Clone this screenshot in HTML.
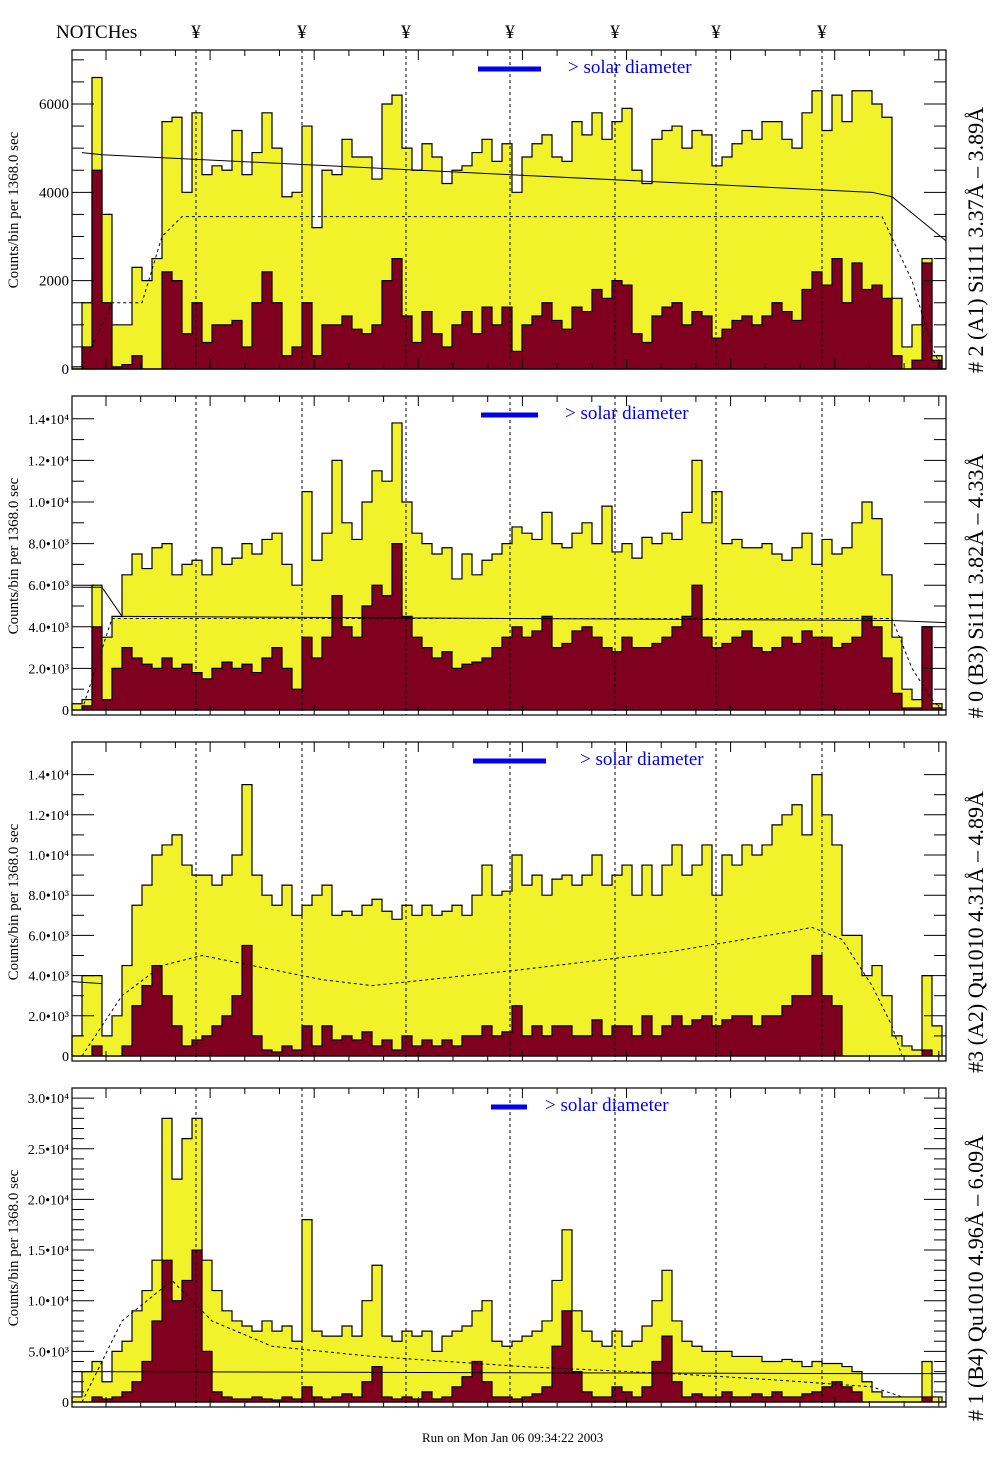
<!DOCTYPE html>
<html><head><meta charset="utf-8"><style>
body{margin:0;background:#fff;}
svg{display:block;font-family:"Liberation Serif",serif;}
</style></head><body>
<svg id="chart" width="1004" height="1476" viewBox="0 0 1004 1476" xmlns="http://www.w3.org/2000/svg">
<text x="56" y="38" font-size="19">NOTCHes</text>
<text x="422" y="1442" font-size="13">Run on Mon Jan 06 09:34:22 2003</text>
</svg>
<script>
const notchX=[196,302,406,510,615,716,822];
const y1=[0.05,1.5,6.6,3.5,1.0,1.0,2.3,2.0,2.5,5.6,5.7,4.0,5.8,4.4,4.6,4.5,5.4,4.4,4.9,5.8,5.0,3.9,4.0,5.5,3.2,4.5,4.4,5.2,4.8,4.8,4.3,6.0,6.2,5.0,4.5,5.1,4.8,4.2,4.5,4.6,4.9,5.2,4.7,5.1,4.0,4.8,5.1,5.3,4.8,4.7,5.6,5.3,5.8,5.2,5.6,5.9,4.5,4.2,5.2,5.4,5.5,5.0,5.4,5.3,4.6,4.8,5.1,5.4,5.2,5.6,5.6,5.2,5.0,5.8,6.3,5.4,6.2,5.6,6.3,6.3,6.0,5.7,1.6,0.5,1.0,2.5,0.3,0];
const r1=[0,0.5,4.5,1.5,0.05,0.1,0.3,0,0,2.2,2.0,0.8,1.5,0.6,1.0,1.0,1.1,0.5,1.5,2.2,1.5,0.3,0.5,1.5,0.3,1.0,1.0,1.2,0.9,0.8,1.0,2.0,2.5,1.2,0.6,1.3,0.8,0.5,1.0,1.3,0.8,1.4,1.0,1.4,0.4,1.0,1.2,1.5,1.1,0.9,1.4,1.3,1.8,1.6,2.0,1.9,0.8,0.6,1.2,1.4,1.5,1.0,1.3,1.2,0.7,0.9,1.1,1.2,1.0,1.2,1.5,1.3,1.1,1.8,2.2,1.9,2.5,1.5,2.4,1.8,1.9,1.6,0.3,0,0.2,2.4,0.2,0];
const y2=[0.3,0.5,6.0,3.5,4.5,6.5,7.5,6.8,7.8,8.0,6.5,7.0,7.2,6.5,7.8,7.0,7.3,8.0,7.5,8.2,8.5,7.0,6.0,10.5,7.2,8.5,12.0,9.0,8.2,10.0,11.5,11.0,13.8,10.0,8.5,8.0,7.5,7.8,6.3,7.5,6.5,7.2,7.5,8.0,8.8,8.5,8.2,9.5,8.0,7.8,8.5,9.0,8.0,9.8,7.6,8.0,7.3,8.3,8.0,8.5,8.2,9.5,12.0,9.0,10.5,8.0,8.2,7.8,7.8,8.0,7.5,7.2,7.8,8.5,7.0,8.2,7.5,7.8,9.0,10.0,9.2,6.5,3.5,1.0,0.5,4.0,0.3,0];
const r2=[0,0.2,4.0,0.5,2.0,3.0,2.5,2.2,2.0,2.5,2.0,2.2,1.8,1.5,2.0,2.3,2.0,2.2,1.8,2.5,3.0,2.0,1.0,3.5,2.5,3.5,5.5,4.0,3.5,5.0,6.0,5.5,8.0,4.5,3.5,3.0,2.5,2.8,2.0,2.2,2.3,2.5,3.0,3.5,4.0,3.5,3.8,4.5,3.0,3.2,3.8,4.0,3.5,3.0,2.8,3.5,3.0,3.0,3.2,3.5,4.0,4.5,6.0,3.5,3.0,3.2,3.5,3.8,3.0,2.8,3.0,3.5,3.2,3.8,3.5,3.5,3.0,3.2,3.5,4.5,4.0,2.5,0.8,0.1,0.1,4.0,0.1,0];
const y3=[1.0,4.0,4.0,1.0,2.0,4.5,7.5,8.5,10.0,10.5,11.0,9.5,9.0,9.0,8.5,9.0,10.0,13.5,9.0,8.0,7.5,8.5,7.0,7.5,8.0,8.5,7.0,7.2,7.0,7.5,7.8,7.2,6.8,7.5,7.0,7.5,7.0,7.2,7.5,7.0,8.0,9.5,8.0,8.2,10.0,8.5,9.0,8.0,8.8,9.0,8.5,9.0,10.0,8.5,9.0,9.5,8.0,9.5,8.0,9.5,10.5,9.0,9.5,10.5,8.0,10.0,9.5,10.5,10.0,10.5,11.5,12.0,12.5,11.0,14.0,12.0,10.5,6.0,6.0,4.0,4.5,3.0,1.0,0.5,0.3,4.0,1.5,0];
const r3=[0,0,0.5,0,0,0.5,2.5,3.5,4.5,3.0,1.5,0.5,0.8,1.0,1.5,2.0,3.0,5.5,1.0,0.3,0.2,0.5,0.3,1.5,0.5,1.5,0.8,1.0,0.8,1.2,0.5,0.8,0.3,1.0,0.5,0.8,0.5,0.8,0.5,1.0,1.0,1.5,1.0,1.2,2.5,1.0,1.5,1.0,1.5,1.5,1.0,1.0,1.8,1.0,1.5,1.5,1.0,2.0,1.0,1.5,2.0,1.5,1.8,2.0,1.5,1.8,2.0,2.0,1.5,2.0,2.0,2.5,3.0,3.0,5.0,3.0,2.5,0,0,0,0,0,0,0,0,0.3,0,0];
const y4=[0.5,3.0,4.0,2.0,5.0,6.0,9.0,11.0,14.0,28.0,22.0,26.0,28.0,14.0,11.0,9.0,8.0,7.5,7.0,8.0,7.0,7.5,6.0,18.0,7.0,6.5,6.5,7.5,6.5,10.0,13.5,6.5,6.0,7.0,6.5,7.0,5.0,6.5,7.0,7.5,9.0,10.0,6.0,5.5,6.0,6.5,7.0,8.0,12.0,17.0,9.0,7.0,6.0,5.5,7.0,5.5,6.0,7.5,10.0,13.0,8.0,6.0,5.5,5.0,5.0,5.0,4.5,4.5,4.5,4.0,4.0,4.2,4.0,3.5,4.0,3.8,3.8,3.5,3.0,2.0,1.0,0.5,0.5,0.5,0.5,4.0,0.5,0];
const r4=[0,0,0.5,0.3,0.5,1.0,2.0,4.0,8.0,14.0,10.0,12.0,15.0,5.0,1.0,0.5,0.3,0.3,0.5,0.3,0.2,0.5,0.3,1.5,0.5,0.3,0.5,0.8,0.5,2.0,3.5,0.5,0.3,0.5,0.3,1.0,0.3,0.5,1.5,2.5,4.0,2.0,0.5,0.5,0.3,0.5,0.8,1.5,5.5,9.0,3.0,1.0,0.5,0.5,1.5,1.0,0.5,1.5,4.0,6.5,2.0,0.5,0.8,0.5,0.5,1.0,0.5,0.5,0.8,0.5,1.0,0.5,0.5,0.8,1.0,1.5,2.0,1.5,1.0,0,0,0,0,0,0,0.5,0,0];
const d1=[[1,0],[4,1.5],[7,1.5],[9,3.0],[11,3.45],[81,3.45],[84,2.0],[86,0.5],[87,0]];
const d2=[[1,0],[4,4.4],[82,4.4],[84,2.0],[86,0.5],[87,0]];
const d3=[[1,0],[5,3.0],[9,4.5],[13,5.0],[18,4.5],[25,3.8],[30,3.5],[45,4.3],[60,5.2],[72,6.2],[74,6.4],[77,5.8],[80,3.5],[82,1.5],[83,0]];
const d4=[[1,0],[5,8.0],[10,12.0],[14,8.0],[20,5.5],[30,4.5],[45,3.5],[60,2.8],[70,2.2],[80,1.5],[83,0.5]];
const s1=[[1,4.9],[3,4.85],[80,4.0],[82,3.9],[88,2.9]];
const s2=[[0,5.9],[3,5.9],[5,4.5],[82,4.3],[88,4.2]];
const s3=[[0,3.7],[3,3.6]];
const s4=[[0,3.0],[2,3.0],[79,2.8],[88,2.8]];
const titles=["# 2 (A1) Si111  3.37Å – 3.89Å","# 0 (B3) Si111  3.82Å – 4.33Å","#3 (A2) Qu1010  4.31Å – 4.89Å","# 1 (B4) Qu1010 4.96Å – 6.09Å"];
const tickLabels1=["0","2000","4000","6000"];
const tickVals1=[0,2,4,6];
const tickLabelsE=[["0","2.0•10³","4.0•10³","6.0•10³","8.0•10³","1.0•10⁴","1.2•10⁴","1.4•10⁴"],["0","2.0•10³","4.0•10³","6.0•10³","8.0•10³","1.0•10⁴","1.2•10⁴","1.4•10⁴"],["0","5.0•10³","1.0•10⁴","1.5•10⁴","2.0•10⁴","2.5•10⁴","3.0•10⁴"]];
const tickValsE=[[0,2,4,6,8,10,12,14],[0,2,4,6,8,10,12,14],[0,5,10,15,20,25,30]];

const NS="http://www.w3.org/2000/svg";
const svg=document.getElementById('chart');
function mk(t,a,p){const e=document.createElementNS(NS,t);for(const k in a)e.setAttribute(k,a[k]);(p||svg).appendChild(e);return e;}
const X0=72,X1=946,BW=10;
const xS=i=>Math.min(X0+i*BW,X1);
notchX.forEach((x,i)=>{const t=mk('text',{x:x,y:38,'font-size':19,'text-anchor':'middle'});t.textContent='¥';

});
const panels=[
 {top:50,zero:369,pxk:44.17,max:7.2,y:y1,r:r1,d:d1,s:s1,lab:tickLabels1,tv:tickVals1,minor:0.5,leg:[478,541,568]},
 {top:396,zero:710,pxk:20.8,max:14.5,y:y2,r:r2,d:d2,s:s2,lab:tickLabelsE[0],tv:tickValsE[0],minor:1,leg:[481,538,565]},
 {top:742,zero:1056,pxk:20.1,max:14.8,y:y3,r:r3,d:d3,s:s3,lab:tickLabelsE[1],tv:tickValsE[1],minor:1,leg:[473,546,580]},
 {top:1088,zero:1402,pxk:10.13,max:31,y:y4,r:r4,d:d4,s:s4,lab:tickLabelsE[2],tv:tickValsE[2],minor:1,leg:[491,527,545]}];
panels.forEach((P,pi)=>{
 const g=mk('g',{});
 
 
 const yS=v=>Math.max(P.top,P.zero-v*P.pxk);
 const bot=P.top+319;
 function hist(arr,fill,name){
  let d='M'+X0+','+P.zero;
  arr.forEach((v,i)=>{d+=' L'+xS(i)+','+yS(v)+' L'+xS(i+1)+','+yS(v);});
  d+=' L'+X1+','+P.zero+' Z';
  const p=mk('path',{d:d,fill:fill,stroke:'#000','stroke-width':1.2},g);
  
  
 }
 hist(P.y,'#f2f22a','total-counts-histogram');
 hist(P.r,'#800020','source-counts-histogram');
 const line=(pts,dash,name)=>{const p=mk('polyline',{points:pts.map(q=>xS(q[0])+','+yS(q[1])).join(' '),fill:'none',stroke:'#000','stroke-width':1,'stroke-dasharray':dash},g);
  
  };
 line(P.d,'3,3','model-dashed-curve');
 line(P.s,'none','background-solid-line');
 notchX.forEach(x=>{const l=mk('line',{x1:x,y1:P.top,x2:x,y2:bot,stroke:'#000','stroke-width':1,'stroke-dasharray':'3,3'},g);
  
  });
 const fr=mk('rect',{x:X0,y:P.top,width:X1-X0,height:319,fill:'none',stroke:'#000','stroke-width':1.2},g);
 
 
 for(let k=0;k*34.7+106<X1;k++){const x=106+k*34.7;const L=(k%3==0)?10:6;
  mk('line',{x1:x,y1:P.top,x2:x,y2:P.top+L,stroke:'#000'},g);mk('line',{x1:x,y1:bot,x2:x,y2:bot-L,stroke:'#000'},g);}
 for(let v=0;v<=P.max;v+=P.minor){const y=P.zero-v*P.pxk;if(y<P.top)break;
  const major=P.tv.indexOf(Math.round(v*10)/10)>=0;const L=major?22:12;
  mk('line',{x1:X0,y1:y,x2:X0+L,y2:y,stroke:'#000'},g);mk('line',{x1:X1,y1:y,x2:X1-L,y2:y,stroke:'#000'},g);}
 P.tv.forEach((v,i)=>{const t=mk('text',{x:69,y:P.zero-v*P.pxk+5,'font-size':pi==0?15:14,'text-anchor':'end'},g);t.textContent=P.lab[i];
  
  });
 const yt=mk('text',{x:0,y:0,'font-size':15,'text-anchor':'middle',transform:'translate(18,'+(P.top+160)+') rotate(-90)'},g);
 yt.textContent='Counts/bin per   1368.0 sec';
 
 
 const rt=mk('text',{x:0,y:0,'font-size':22,'text-anchor':'middle',transform:'translate(983,'+(P.top+190)+') rotate(-90)'},g);
 rt.textContent=titles[pi];
 
 
 const lb=mk('line',{x1:P.leg[0],y1:P.top+19,x2:P.leg[1],y2:P.top+19,stroke:'#0000ee','stroke-width':5},g);
 
 
 const lt=mk('text',{x:P.leg[2],y:P.top+23,'font-size':19,fill:'#0000ee'},g);
 lt.textContent='> solar diameter';
 
 
});
</script>
</body></html>
